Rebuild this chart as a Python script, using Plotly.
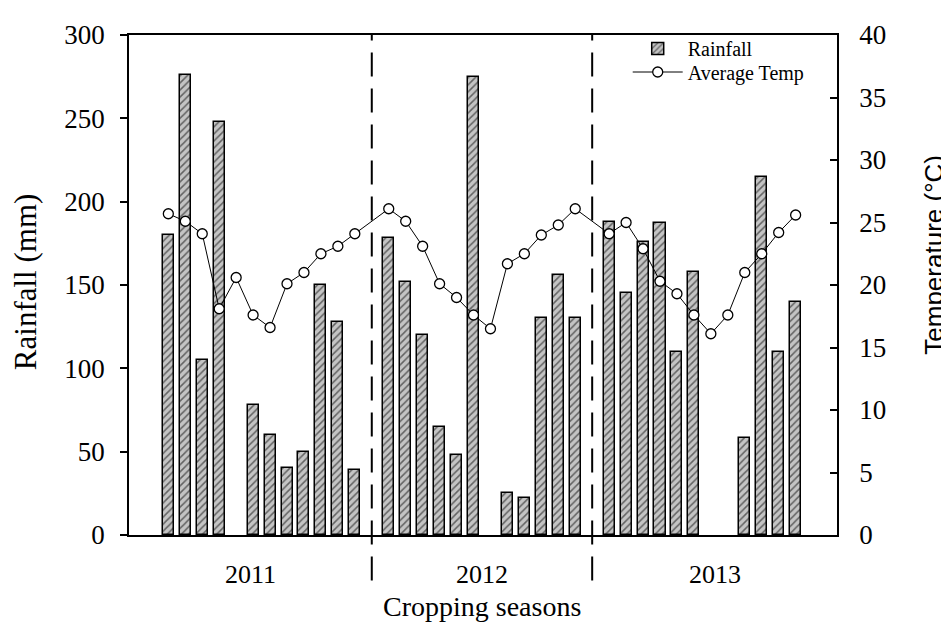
import plotly.graph_objects as go

# ---- data ----
years = ["2011", "2012", "2013"]
months_per_year = 12
rain_2011 = [180, 276, 105, 248, None, 78, 60, 40, 50, 150, 128, 39]
rain_2012 = [178, 152, 120, 65, 48, 275, None, 25, 22, 130, 156, 130]
rain_2013 = [188, 145, 176, 187, 110, 158, None, None, 58, 215, 110, 140]
temp_2011 = [25.7, 25.1, 24.1, 18.1, 20.6, 17.6, 16.6, 20.1, 21.0, 22.5, 23.1, 24.1]
temp_2012 = [26.1, 25.1, 23.1, 20.1, 19.0, 17.6, 16.5, 21.7, 22.5, 24.0, 24.8, 26.1]
temp_2013 = [24.1, 25.0, 22.9, 20.3, 19.3, 17.6, 16.1, 17.6, 21.0, 22.5, 24.2, 25.6]

left_ticks = [0, 50, 100, 150, 200, 250, 300]
right_ticks = [0, 5, 10, 15, 20, 25, 30, 35, 40]

rain = rain_2011 + rain_2012 + rain_2013
temp = temp_2011 + temp_2012 + temp_2013

# x positions: each year occupies 12 month slots plus one separator slot
slot = months_per_year + 1
xpos = [yi * slot + m for yi in range(len(years)) for m in range(months_per_year)]
separators = [slot * (yi + 1) - 1 for yi in range(len(years) - 1)]
x_min, x_max = -2.32, 39.44
bounds = [x_min] + separators + [x_max]
year_centers = [(bounds[i] + bounds[i + 1]) / 2 for i in range(len(years))]

SERIF = "Liberation Serif, Times New Roman, serif"
SANS = "Liberation Sans, Arial, sans-serif"

fig = go.Figure()
fig.add_trace(go.Bar(
    x=xpos, y=rain, name="Rainfall", width=0.65,
    marker=dict(color="#c4c4c4", line=dict(color="black", width=1.5),
                pattern=dict(shape="/", fgcolor="black", bgcolor="#c4c4c4",
                             size=5, solidity=0.3)),
    yaxis="y", legend="legend",
))
fig.add_trace(go.Scatter(
    x=xpos, y=temp, name="Average Temp", mode="lines+markers",
    line=dict(color="black", width=1),
    marker=dict(symbol="circle", size=10, color="white",
                line=dict(color="black", width=1.3)),
    yaxis="y2", legend="legend2",
))

shapes = []
for s in separators:
    shapes.append(dict(type="line", xref="x", yref="paper", x0=s, x1=s,
                       y0=-0.091, y1=1.0,
                       line=dict(color="black", width=2, dash="24px,12px")))

annotations = []
for yr, c in zip(years, year_centers):
    annotations.append(dict(text=yr, x=c, y=-0.079, xref="x", yref="paper",
                            showarrow=False, xanchor="center", yanchor="middle",
                            font=dict(family=SERIF, size=26, color="black")))
annotations.append(dict(text="Cropping seasons", x=0.498, y=-0.142, xref="paper",
                        yref="paper", showarrow=False, xanchor="center",
                        yanchor="middle",
                        font=dict(family=SERIF, size=28, color="black")))
annotations.append(dict(text="Rainfall (mm)", x=-0.146, y=0.505, xref="paper",
                        yref="paper", showarrow=False, textangle=-90,
                        xanchor="center", yanchor="middle",
                        font=dict(family=SERIF, size=31, color="black")))
annotations.append(dict(text="Temperature (°C)", x=1.1366, y=0.56, xref="paper",
                        yref="paper", showarrow=False, textangle=-90,
                        xanchor="center", yanchor="middle",
                        font=dict(family=SANS, size=26, color="black")))

legend_common = dict(xanchor="left", yanchor="middle", bgcolor="rgba(0,0,0,0)",
                     font=dict(family=SERIF, size=20, color="black"),
                     itemwidth=50)

# the page body has an 8px margin, so the figure is 8px smaller and margins shifted
fig.update_layout(
    width=941, height=620,
    margin=dict(l=121, r=112, t=17, b=93),
    plot_bgcolor="white", paper_bgcolor="white",
    showlegend=True,
    legend=dict(x=0.7044, y=0.973, **legend_common),
    legend2=dict(x=0.7044, y=0.926, **legend_common),
    bargap=0,
    xaxis=dict(range=[x_min, x_max], showticklabels=False, ticks="",
               showgrid=False, zeroline=False, showline=True,
               linecolor="black", linewidth=1.5, mirror=True),
    yaxis=dict(range=[0, 300], tickvals=left_ticks, ticks="outside", ticklen=7,
               tickwidth=1.5, tickcolor="black", showgrid=False, zeroline=False,
               showline=True, linecolor="black", linewidth=1.5,
               ticklabelstandoff=10,
               tickfont=dict(family=SERIF, size=27, color="black")),
    yaxis2=dict(range=[0, 40], tickvals=right_ticks, overlaying="y", side="right",
                ticks="inside", ticklen=7, tickwidth=1.5, tickcolor="black",
                showgrid=False, zeroline=False, showline=True,
                linecolor="black", linewidth=1.5, ticklabelstandoff=15,
                tickfont=dict(family=SERIF, size=27, color="black")),
    shapes=shapes,
    annotations=annotations,
)

fig.write_html("out.html")
